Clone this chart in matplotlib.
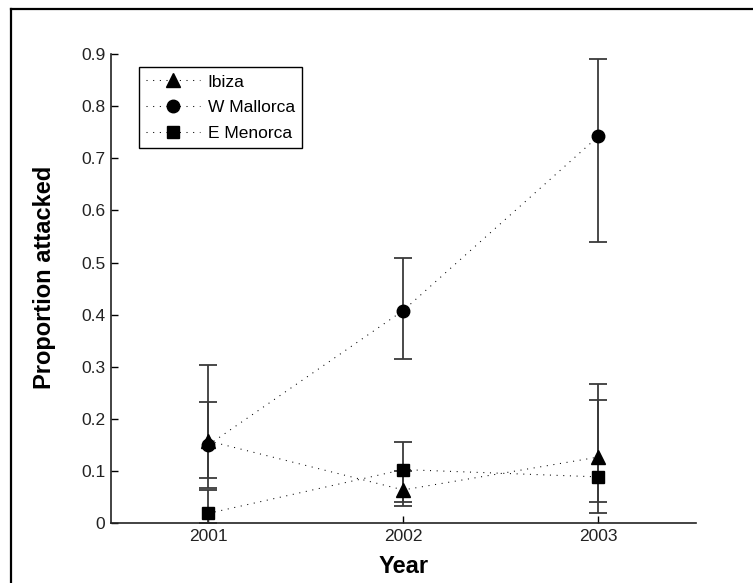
import matplotlib.pyplot as plt
from matplotlib.lines import Line2D

# proportion attacked per year, with error bar ends
years = [2001, 2002, 2003]
series = ['Ibiza', 'W Mallorca', 'E Menorca']
markers = ['^', 'o', 's']

ibiza = [0.158, 0.064, 0.127]
ibiza_lo = [0.068, 0.040, 0.020]
ibiza_hi = [0.232, 0.100, 0.268]

mallorca = [0.150, 0.408, 0.742]
mallorca_lo = [0.087, 0.316, 0.540]
mallorca_hi = [0.303, 0.509, 0.891]

menorca = [0.019, 0.103, 0.089]
menorca_lo = [0.000, 0.033, 0.041]
menorca_hi = [0.064, 0.155, 0.236]

plt.rcParams['font.family'] = ['Liberation Sans', 'DejaVu Sans']

fig = plt.figure(figsize=(7.53, 5.83), dpi=100)
ax = fig.add_axes([0.147, 0.1024, 0.777, 0.805])

data = [(ibiza, ibiza_lo, ibiza_hi), (mallorca, mallorca_lo, mallorca_hi),
        (menorca, menorca_lo, menorca_hi)]
ms = [10, 9, 9]
for name, mk, m, (vals, lo, hi) in zip(series, markers, ms, data):
    err = [[v - l for v, l in zip(vals, lo)], [h - v for v, h in zip(vals, hi)]]
    ax.errorbar(years, vals, yerr=err, fmt='none', ecolor='#3a3a3a',
                elinewidth=1.3, capsize=6.5, capthick=1.3, zorder=2)
    ax.plot(years, vals, color='black', linestyle=(0, (1, 5.4)), lw=0.75,
            marker=mk, markersize=m, markerfacecolor='black',
            markeredgecolor='black', label=name, zorder=3)

ax.set_xlim(2000.5, 2003.5)
ax.set_ylim(0, 0.9)
ax.set_xticks(years)
ax.set_xticklabels([str(y) for y in years])
ax.set_yticks([0, 0.1, 0.2, 0.3, 0.4, 0.5, 0.6, 0.7, 0.8, 0.9])
ax.set_yticklabels(['0', '0.1', '0.2', '0.3', '0.4', '0.5', '0.6', '0.7', '0.8', '0.9'])
ax.tick_params(direction='in', length=5, width=1, labelsize=12.5, colors='black',
               labelcolor='#222222', pad=4)
ax.spines['top'].set_visible(False)
ax.spines['right'].set_visible(False)
for s in ['left', 'bottom']:
    ax.spines[s].set_linewidth(1.2)
    ax.spines[s].set_color('#222222')

ax.set_xlabel('Year', fontsize=17, fontweight='bold')
ax.set_ylabel('Proportion attacked', fontsize=17, fontweight='bold')
ax.xaxis.set_label_coords(0.5, -0.068)
ax.yaxis.set_label_coords(-0.093, 0.525)

leg = ax.legend(loc='upper left', bbox_to_anchor=(0.048, 0.972), borderaxespad=0,
                fontsize=12.5, handlelength=3.1, handletextpad=0.45,
                labelspacing=0.6, fancybox=False, edgecolor='black',
                framealpha=1, borderpad=0.42)
leg.get_frame().set_linewidth(1.0)

# border around the figure (top and left only)
fig.add_artist(Line2D([11 / 753, 1], [1 - 9 / 583, 1 - 9 / 583],
                      transform=fig.transFigure, color='black', lw=1.6))
fig.add_artist(Line2D([11 / 753, 11 / 753], [0, 1 - 9 / 583],
                      transform=fig.transFigure, color='black', lw=1.6))

fig.savefig('out.png', dpi=100)
